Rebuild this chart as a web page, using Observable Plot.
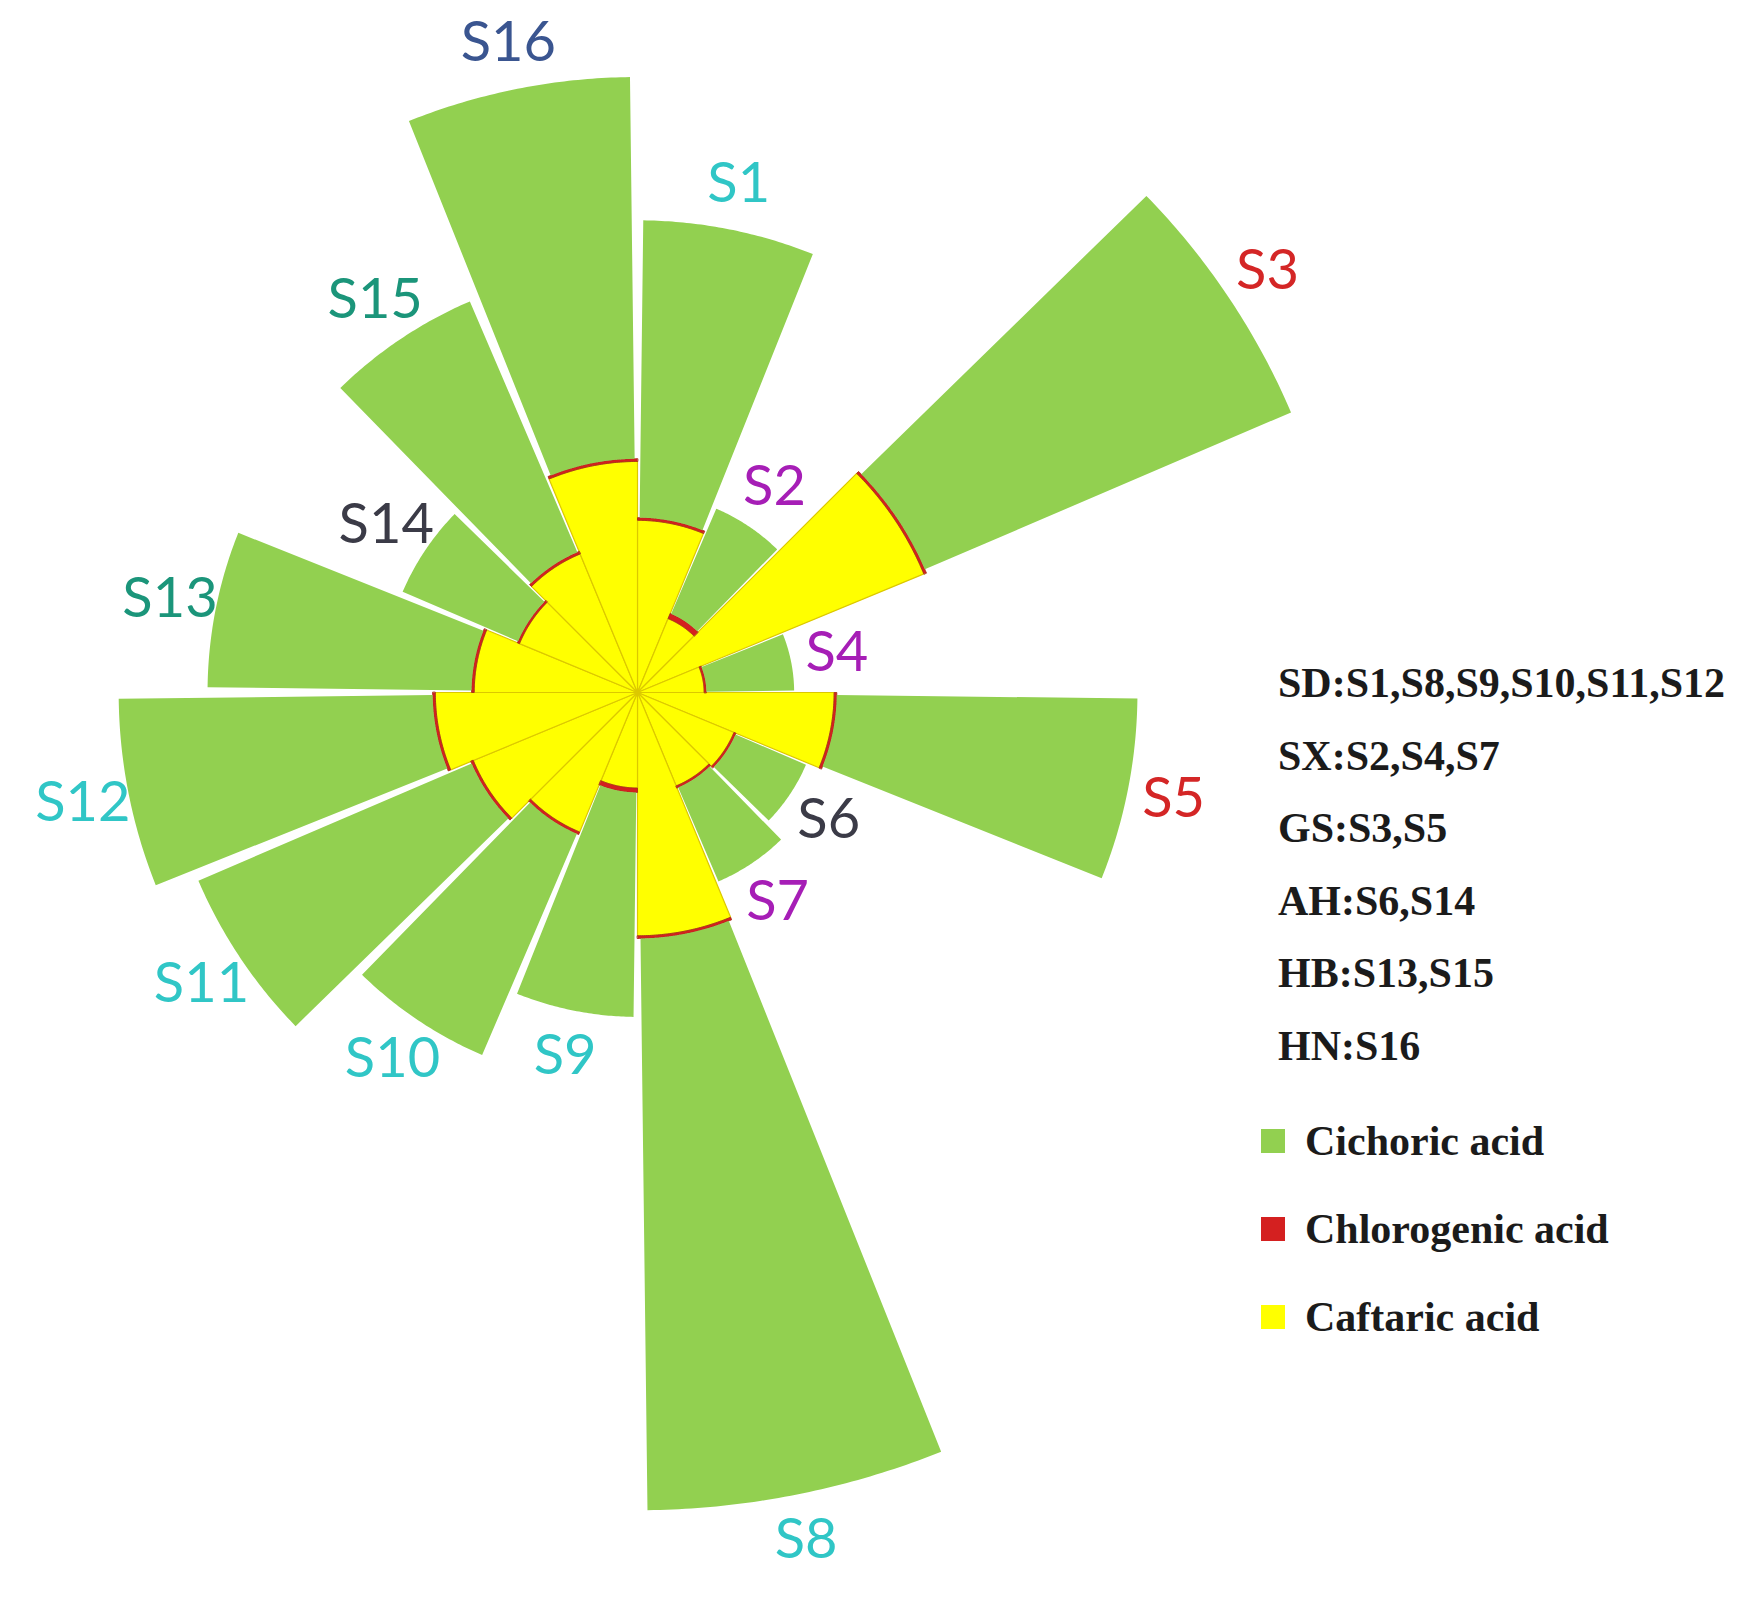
<!DOCTYPE html>
<html>
<head>
<meta charset="utf-8">
<script src="https://cdn.jsdelivr.net/npm/d3@7"></script>
<script src="https://cdn.jsdelivr.net/npm/@observablehq/plot@0.6"></script>
<style>
  body { margin: 0; background: #ffffff; }
  #wrap { position: relative; width: 1742px; height: 1611px; overflow: hidden; }
  #chart { position: absolute; left: 0; top: 0; }
  #legend { position: absolute; left: 1261px; top: 647px; font-family: "Liberation Serif", "Times New Roman", serif; font-weight: bold; color: #1b1b1b; }
  .grp { font-size: 42px; height: 72.6px; line-height: 72.6px; padding-left: 17px; white-space: nowrap; }
  .acid { font-size: 42px; height: 88px; line-height: 88px; white-space: nowrap; display: flex; align-items: center; }
  .sw { width: 24px; height: 24px; margin-right: 20px; display: inline-block; }
</style>
</head>
<body>
<div id="wrap"><div id="chart"></div><div id="legend"></div></div>
<script>
// ---- data ----
const samples = ["S1","S2","S3","S4","S5","S6","S7","S8","S9","S10","S11","S12","S13","S14","S15","S16"];
const origin  = ["SD","SX","GS","SX","GS","AH","SX","SD","SD","SD","SD","SD","HB","AH","HB","HN"];
const caftaric    = [7.75, 3.6, 13.95, 3.0, 8.85, 4.7, 4.55, 10.95, 4.3, 6.8, 8.0, 9.1, 7.35, 5.75, 6.75, 10.4];
const chlorogenic = [0.12, 0.25, 0.12, 0.1, 0.12, 0.1, 0.1, 0.12, 0.2, 0.12, 0.12, 0.12, 0.12, 0.1, 0.12, 0.12];
const cichoric    = [13.38, 5.15, 17.93, 3.95, 13.53, 3.45, 4.6, 25.73, 10.1, 10.83, 13.38, 14.13, 11.88, 5.65, 12.28, 17.18];
const originOrder  = ["SD","SX","GS","AH","HB","HN"];
const originColors = ["#30c6c6","#a61eb6","#d42626","#3b3b47","#1b957a","#3a5590"];
const acidNames  = ["Cichoric acid","Chlorogenic acid","Caftaric acid"];
const acidColors = ["#92d050","#d42020","#ffff00"];

// ---- geometry helpers (polar sectors on an azimuthal projection) ----
const STEP = 360 / samples.length;
function sector(i, r0, r1, pad) {
  const t0 = i * STEP + pad, t1 = (i + 1) * STEP - pad;
  const a = 180 - t1, b = 180 - t0;
  const n = 48, inner = [], outer = [];
  const la0 = 90 - Math.max(r0, 1e-4), la1 = 90 - r1;
  for (let k = 0; k <= n; k++) inner.push([a + (b - a) * k / n, la0]);
  for (let k = n; k >= 0; k--) outer.push([a + (b - a) * k / n, la1]);
  return {type: "Feature", properties: {sample: samples[i]},
          geometry: {type: "Polygon", coordinates: [[...inner, ...outer, inner[0]]]}};
}
const yellowF = samples.map((s, i) => sector(i, 0, caftaric[i], 0));
const redF    = samples.map((s, i) => sector(i, caftaric[i], caftaric[i] + chlorogenic[i], 0));
const greenF  = samples.map((s, i) => sector(i, caftaric[i] + chlorogenic[i], caftaric[i] + chlorogenic[i] + cichoric[i], 0.7));

const labels = samples.map((s, i) => ({
  name: s,
  lon: 180 - (i + 0.5) * STEP,
  lat: 90 - (caftaric[i] + chlorogenic[i] + cichoric[i] + 2.1),
  color: originColors[originOrder.indexOf(origin[i])]
}));

const unitPx = 22.22;
const projection = d3.geoAzimuthalEquidistant()
  .rotate([0, -90])
  .scale(unitPx * 180 / Math.PI)
  .translate([637, 692]);

const chart = Plot.plot({
  width: 1742,
  height: 1611,
  margin: 0,
  projection,
  color: {type: "identity"},
  marks: [
    Plot.geo(yellowF, {fill: acidColors[2], stroke: "#dcc800", strokeWidth: 1.2}),
    Plot.geo(redF, {fill: acidColors[1], stroke: "#a8301a", strokeWidth: 0.9}),
    Plot.geo(greenF, {fill: acidColors[0]}),
    Plot.text(labels, {x: "lon", y: "lat", text: "name", fill: "color",
      fontSize: 56, fontFamily: "Lato, 'Open Sans', sans-serif"})
  ]
});
document.getElementById("chart").appendChild(chart);

// ---- legend ----
const legend = document.getElementById("legend");
originOrder.forEach(o => {
  const d = document.createElement("div");
  d.className = "grp";
  d.textContent = o + ":" + samples.filter((s, i) => origin[i] === o).join(",");
  legend.appendChild(d);
});
const spacer = document.createElement("div");
spacer.style.height = "14px";
legend.appendChild(spacer);
acidNames.forEach((n, k) => {
  const d = document.createElement("div");
  d.className = "acid";
  const sw = document.createElement("span");
  sw.className = "sw";
  sw.style.background = acidColors[k];
  const t = document.createElement("span");
  t.textContent = n;
  d.appendChild(sw); d.appendChild(t);
  legend.appendChild(d);
});
</script>
</body>
</html>
